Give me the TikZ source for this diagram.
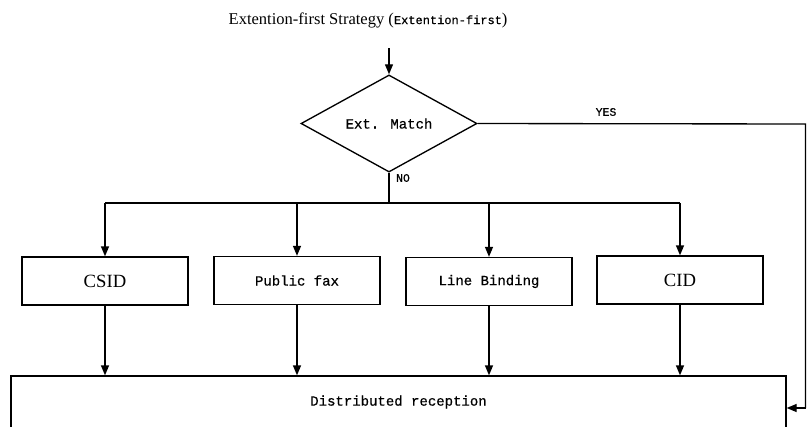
\documentclass[tikz,border=0pt]{standalone}
\usepackage{fontspec}
\setmainfont{Liberation Serif}
\newfontfamily\monof[FakeBold=0.6]{Liberation Mono}
\usetikzlibrary{arrows.meta,shapes.geometric}
\begin{document}
\begin{tikzpicture}[x=0.75pt,y=-0.75pt,
  line width=1pt,
  arr/.style={-{Triangle[length=7.5pt,width=6pt]}},
  box/.style={draw,rectangle,minimum width=124.5pt,minimum height=36pt,inner sep=0pt},
  serifbig/.style={font=\fontsize{14}{16}\selectfont},
  monotext/.style={font=\monof\fontsize{10.5}{12}\selectfont},
  smalllab/.style={font=\monof\fontsize{8.6}{10}\selectfont,inner sep=0pt}]
\useasboundingbox (0,0) rectangle (808,426);
\clip (0,0) rectangle (808,426);

\node[anchor=west,inner sep=0pt] (title) at (228,20)
  {\fontsize{12.4}{14}\selectfont Extention-first Strategy ({\monof\fontsize{9}{10}\selectfont Extention-first})};
\coordinate (tstart) at (389,48);

\node[draw,diamond,minimum width=132pt,minimum height=56.25pt,inner sep=0pt,monotext] (match) at (389,123.5) {Ext. Match};

\node[box,serifbig] (csid) at (105,281) {CSID};
\node[box,monotext] (pfax) at (297,280.5) {Public fax};
\node[box,monotext] (lbind) at (489,281.5) {Line Binding};
\node[box,serifbig] (cid) at (680,280) {CID};

\node[draw,rectangle,minimum width=581.25pt,minimum height=39pt,inner sep=0pt,monotext] (dist) at (398.5,402) {Distributed reception};

\coordinate (bus) at (389,203);
\coordinate (busl) at (csid.north |- bus);
\coordinate (busr) at (cid.north |- bus);
\coordinate (yr) at (805.5,124);
\coordinate (yb) at (805.5,408);

\draw[arr] (tstart) -- (match.north);
\draw (match.south) -- (bus);
\draw (busl) -- (busr);
\foreach \n in {csid,pfax,lbind,cid} {
  \draw[arr] (\n.north |- bus) -- (\n.north);
  \draw[arr] (\n.south) -- (\n.south |- dist.north);
}
\draw (match.east) -- (yr) -- (yb);
\draw[arr] (yb) -- (dist.east |- yb);

\node[smalllab] (yes) at (606,112) {YES};
\node[smalllab] (no) at (403,178) {NO};
\end{tikzpicture}
\end{document}
